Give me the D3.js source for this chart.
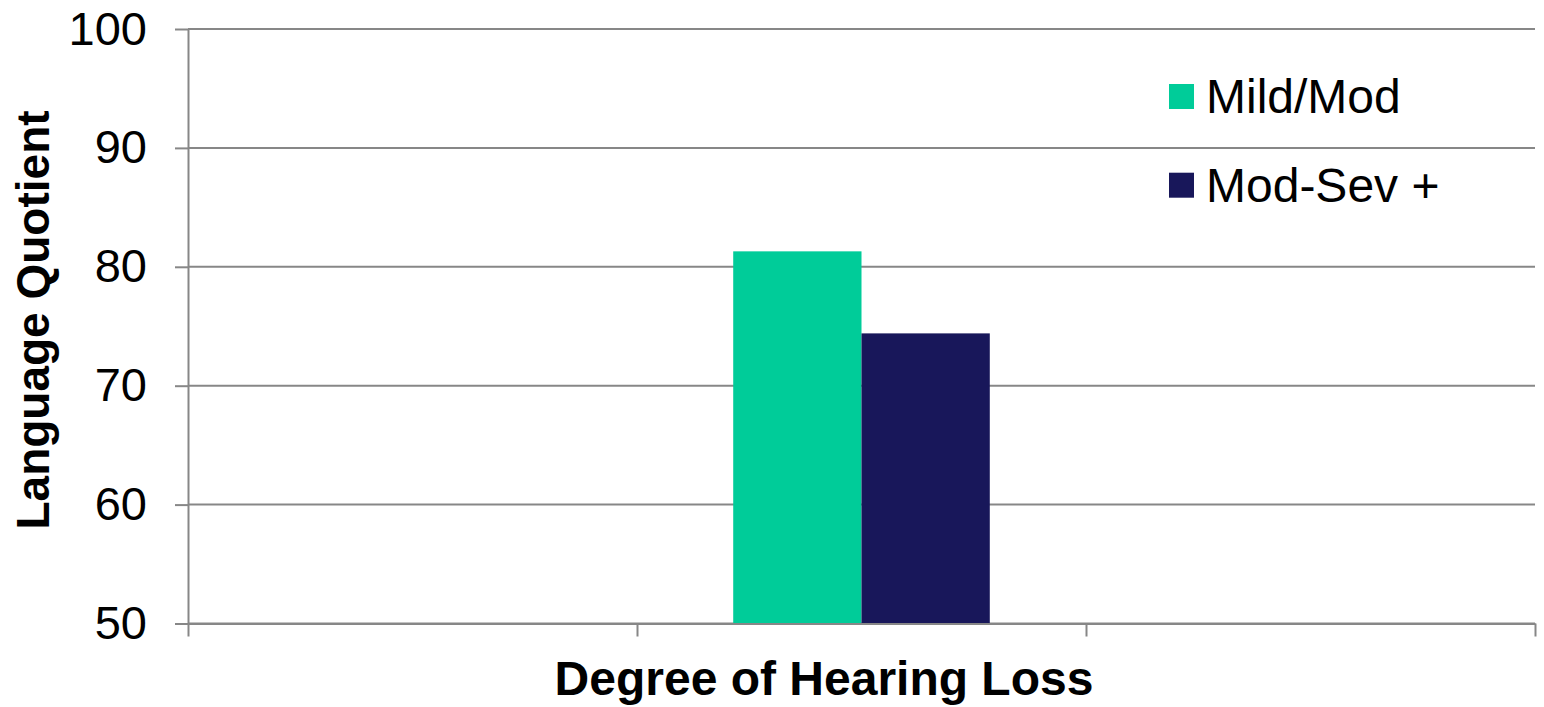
<!DOCTYPE html>
<html>
<head>
<meta charset="utf-8">
<script src="https://cdn.jsdelivr.net/npm/d3@7"></script>
<style>
  html, body { margin: 0; padding: 0; background: #ffffff; }
  svg { display: block; font-family: "Liberation Sans", Arial, sans-serif; }
</style>
</head>
<body>
<svg id="chart" width="1544" height="707"></svg>
<script>
// Categories along the x axis (unlabelled groups); only the middle one carries data
const categoryLabels = ["", "", ""];
const seriesNames = ["Mild/Mod", "Mod-Sev +"];
const mildModValues = [null, 81.3, null];
const modSevValues = [null, 74.4, null];
const seriesColors = ["#00cc99", "#18175a"];
const yTicks = [50, 60, 70, 80, 90, 100];

const seriesValues = [mildModValues, modSevValues];

const svg = d3.select("#chart");
const plot = { left: 188, right: 1535, top: 29, bottom: 623.5 };
const gridColor = "#878787";

// Scales
const catIndex = categoryLabels.map((_, i) => i);
const x0 = d3.scaleBand().domain(catIndex).range([plot.left, plot.right]).padding(0);
const x1 = d3.scaleBand().domain(seriesNames).range([0, x0.bandwidth()])
  .paddingInner(0).paddingOuter(0.75);
const y = d3.scaleLinear().domain([50, 100]).range([plot.bottom, plot.top]);

// Horizontal gridlines
svg.append("g").selectAll("line").data(yTicks).join("line")
  .attr("x1", plot.left).attr("x2", plot.right)
  .attr("y1", d => y(d)).attr("y2", d => y(d))
  .attr("stroke", gridColor).attr("stroke-width", 2);

// Bars
const rows = catIndex.map(i => ({
  i,
  values: seriesNames.map((s, k) => ({ s, k, v: seriesValues[k][i] })).filter(d => d.v != null)
}));
svg.append("g").selectAll("g").data(rows).join("g")
  .attr("transform", d => `translate(${x0(d.i)},0)`)
  .selectAll("rect").data(d => d.values).join("rect")
  .attr("x", d => x1(d.s))
  .attr("width", x1.bandwidth())
  .attr("y", d => y(d.v))
  .attr("height", d => y(50) - y(d.v))
  .attr("fill", d => seriesColors[d.k]);

// Y axis
const yAxis = svg.append("g")
  .attr("transform", `translate(${plot.left},0)`)
  .call(d3.axisLeft(y).tickValues(yTicks).tickSizeInner(13).tickSizeOuter(0).tickPadding(28));
yAxis.select(".domain").attr("stroke", gridColor).attr("stroke-width", 2);
yAxis.selectAll(".tick line").attr("stroke", gridColor).attr("stroke-width", 2);
yAxis.selectAll(".tick text").attr("font-size", 47).attr("fill", "#000")
  .attr("font-family", "'Liberation Sans', Arial, sans-serif");

// X axis: tick marks sit on the category boundaries
const xEdges = d3.scaleLinear().domain([0, categoryLabels.length]).range([plot.left, plot.right]);
const xAxis = svg.append("g")
  .attr("transform", `translate(0,${plot.bottom})`)
  .call(d3.axisBottom(xEdges).tickValues(d3.range(categoryLabels.length + 1))
    .tickSizeInner(13).tickSizeOuter(0).tickFormat(""));
xAxis.select(".domain").attr("stroke", gridColor).attr("stroke-width", 2);
xAxis.selectAll(".tick line").attr("stroke", gridColor).attr("stroke-width", 2);

// Axis titles
svg.append("text")
  .attr("x", 824).attr("y", 695)
  .attr("text-anchor", "middle")
  .attr("font-size", 48).attr("font-weight", "bold").attr("fill", "#000")
  .text("Degree of Hearing Loss");

svg.append("text")
  .attr("transform", "translate(49,320) rotate(-90)")
  .attr("text-anchor", "middle")
  .attr("font-size", 46).attr("font-weight", "bold").attr("fill", "#000")
  .text("Language Quotient");

// Legend
const legend = svg.append("g").attr("transform", "translate(1169,84)");
const items = legend.selectAll("g").data(seriesNames).join("g")
  .attr("transform", (d, i) => `translate(0,${i * 88.7})`);
items.append("rect").attr("width", 25).attr("height", 25)
  .attr("fill", (d, i) => seriesColors[i]);
items.append("text").attr("x", 37).attr("y", 29)
  .attr("font-size", 48).attr("fill", "#000")
  .text(d => d);
</script>
</body>
</html>
